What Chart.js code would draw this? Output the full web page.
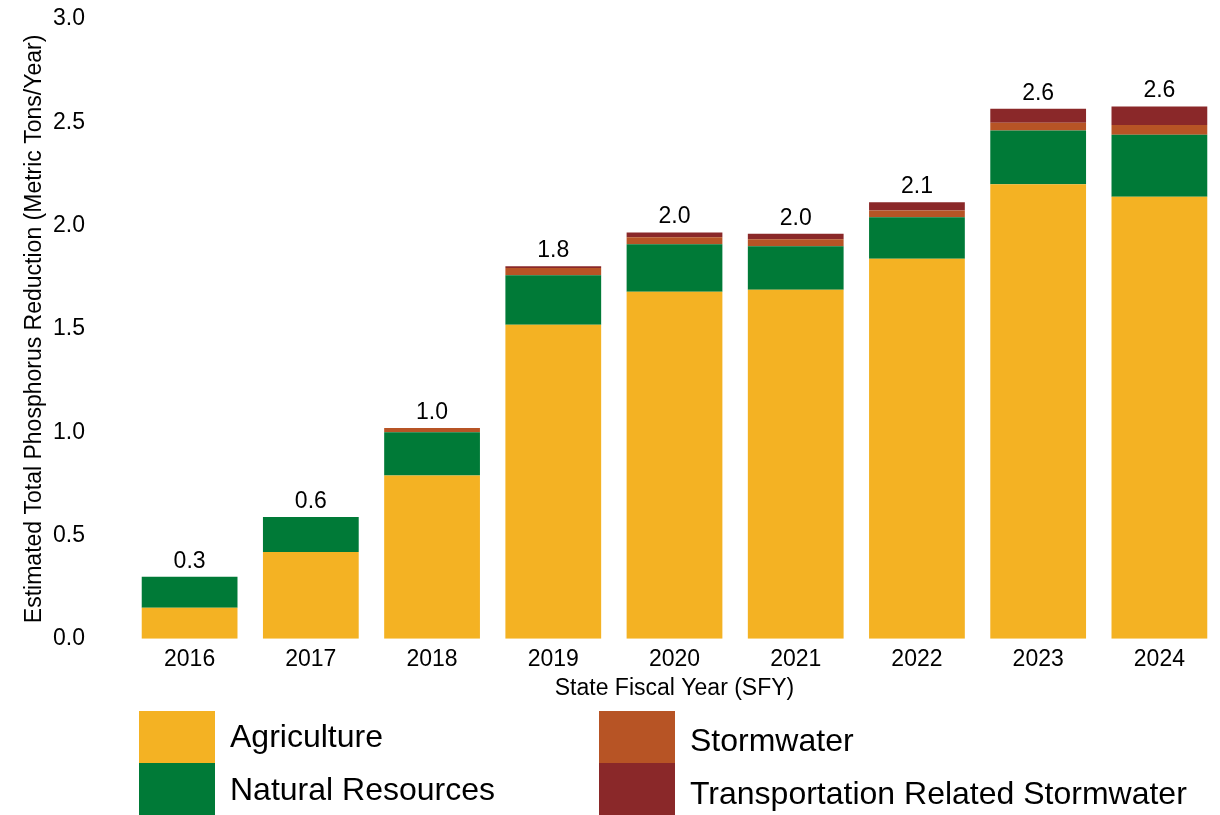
<!DOCTYPE html>
<html>
<head>
<meta charset="utf-8">
<script src="https://cdn.jsdelivr.net/npm/chart.js@4.4.1/dist/chart.umd.min.js"></script>
<style>
  html, body { margin: 0; padding: 0; background: #fff; }
  #wrap { width: 1220px; height: 815px; position: relative; }
</style>
</head>
<body>
<div id="wrap"><canvas id="grafico"></canvas></div>
<script>
// dados (toneladas métricas / ano)
const anos = ['2016', '2017', '2018', '2019', '2020', '2021', '2022', '2023', '2024'];
const agricultura = [0.15, 0.42, 0.79, 1.52, 1.68, 1.69, 1.84, 2.20, 2.14];
const recursosNaturais = [0.15, 0.17, 0.21, 0.24, 0.23, 0.21, 0.20, 0.26, 0.30];
const aguasPluviais = [0, 0, 0.02, 0.035, 0.034, 0.034, 0.033, 0.038, 0.047];
const transporte = [0, 0, 0, 0.008, 0.022, 0.027, 0.04, 0.068, 0.089];
const ticksY = [0, 0.5, 1.0, 1.5, 2.0, 2.5, 3.0];

const FONTE = "'Liberation Sans', Arial, sans-serif";

// totais acima das barras
const pluginTotais = {
    id: 'totais',
    afterDatasetsDraw(chart) {
        const ctx = chart.ctx;
        const ultimo = chart.getDatasetMeta(chart.data.datasets.length - 1);
        ctx.save();
        ctx.font = `23px ${FONTE}`;
        ctx.fillStyle = '#000';
        ctx.textAlign = 'center';
        ctx.textBaseline = 'bottom';
        anos.forEach((_, i) => {
            const total = chart.data.datasets.reduce((s, d) => s + d.data[i], 0);
            const y = chart.scales.y.getPixelForValue(total);
            const x = ultimo.data[i].x;
            ctx.fillText(total.toFixed(1), x, y - 4);
        });
        ctx.restore();
    }
};

// legenda em blocos, como no original
const pluginLegenda = {
    id: 'legendaBlocos',
    afterDraw(chart) {
        const ctx = chart.ctx;
        const ds = chart.data.datasets;
        const pos = [
            { x: 139, y: 711, ty: 738 },
            { x: 139, y: 763, ty: 791 },
            { x: 599, y: 711, ty: 742 },
            { x: 599, y: 763, ty: 795 }
        ];
        ctx.save();
        ctx.font = `32px ${FONTE}`;
        ctx.textBaseline = 'middle';
        ds.forEach((d, i) => {
            const p = pos[i];
            ctx.fillStyle = d.backgroundColor;
            ctx.fillRect(p.x, p.y, 76, 52);
            ctx.fillStyle = '#000';
            ctx.fillText(d.label, p.x + 91, p.ty);
        });
        ctx.restore();
    }
};

const ctxGrafico = document.getElementById('grafico').getContext('2d');
new Chart(ctxGrafico, {
    type: 'bar',
    data: {
        labels: anos,
        datasets: [
            { label: 'Agriculture', data: agricultura, backgroundColor: '#F4B223' },
            { label: 'Natural Resources', data: recursosNaturais, backgroundColor: '#007A37' },
            { label: 'Stormwater', data: aguasPluviais, backgroundColor: '#B75425' },
            { label: 'Transportation Related Stormwater', data: transporte, backgroundColor: '#8A2829' }
        ]
    },
    options: {
        responsive: true,
        maintainAspectRatio: false,
        animation: false,
        layout: { padding: { left: 21, right: 0, top: 19, bottom: 107 } },
        datasets: { bar: { barPercentage: 0.79, categoryPercentage: 1.0, borderWidth: 0 } },
        plugins: {
            legend: { display: false },
            tooltip: { enabled: false }
        },
        scales: {
            x: {
                stacked: true,
                grid: { display: false, drawTicks: false },
                border: { display: false },
                ticks: { color: '#000', font: { family: FONTE, size: 23 }, padding: 7 },
                title: {
                    display: true,
                    text: 'State Fiscal Year (SFY)',
                    color: '#000',
                    font: { family: FONTE, size: 23 },
                    padding: { top: -6, bottom: 6 }
                }
            },
            y: {
                stacked: true,
                min: 0,
                max: 3,
                grid: { display: false, drawTicks: false },
                border: { display: false },
                afterBuildTicks: (axis) => { axis.ticks = ticksY.map(v => ({ value: v })); },
                // largura fixa do eixo e sem folga extra em cima/embaixo
                afterFit: (scale) => {
                    scale.width = 108;
                    scale.paddingTop = 0;
                    scale.paddingBottom = 0;
                },
                ticks: {
                    color: '#000',
                    font: { family: FONTE, size: 23 },
                    padding: 44,
                    callback: (v) => Number(v).toFixed(1)
                },
                title: {
                    display: true,
                    text: 'Estimated Total Phosphorus Reduction (Metric Tons/Year)',
                    color: '#000',
                    font: { family: FONTE, size: 23 },
                    padding: { top: 0, bottom: 4 }
                }
            }
        }
    },
    plugins: [pluginTotais, pluginLegenda]
});
</script>
</body>
</html>
